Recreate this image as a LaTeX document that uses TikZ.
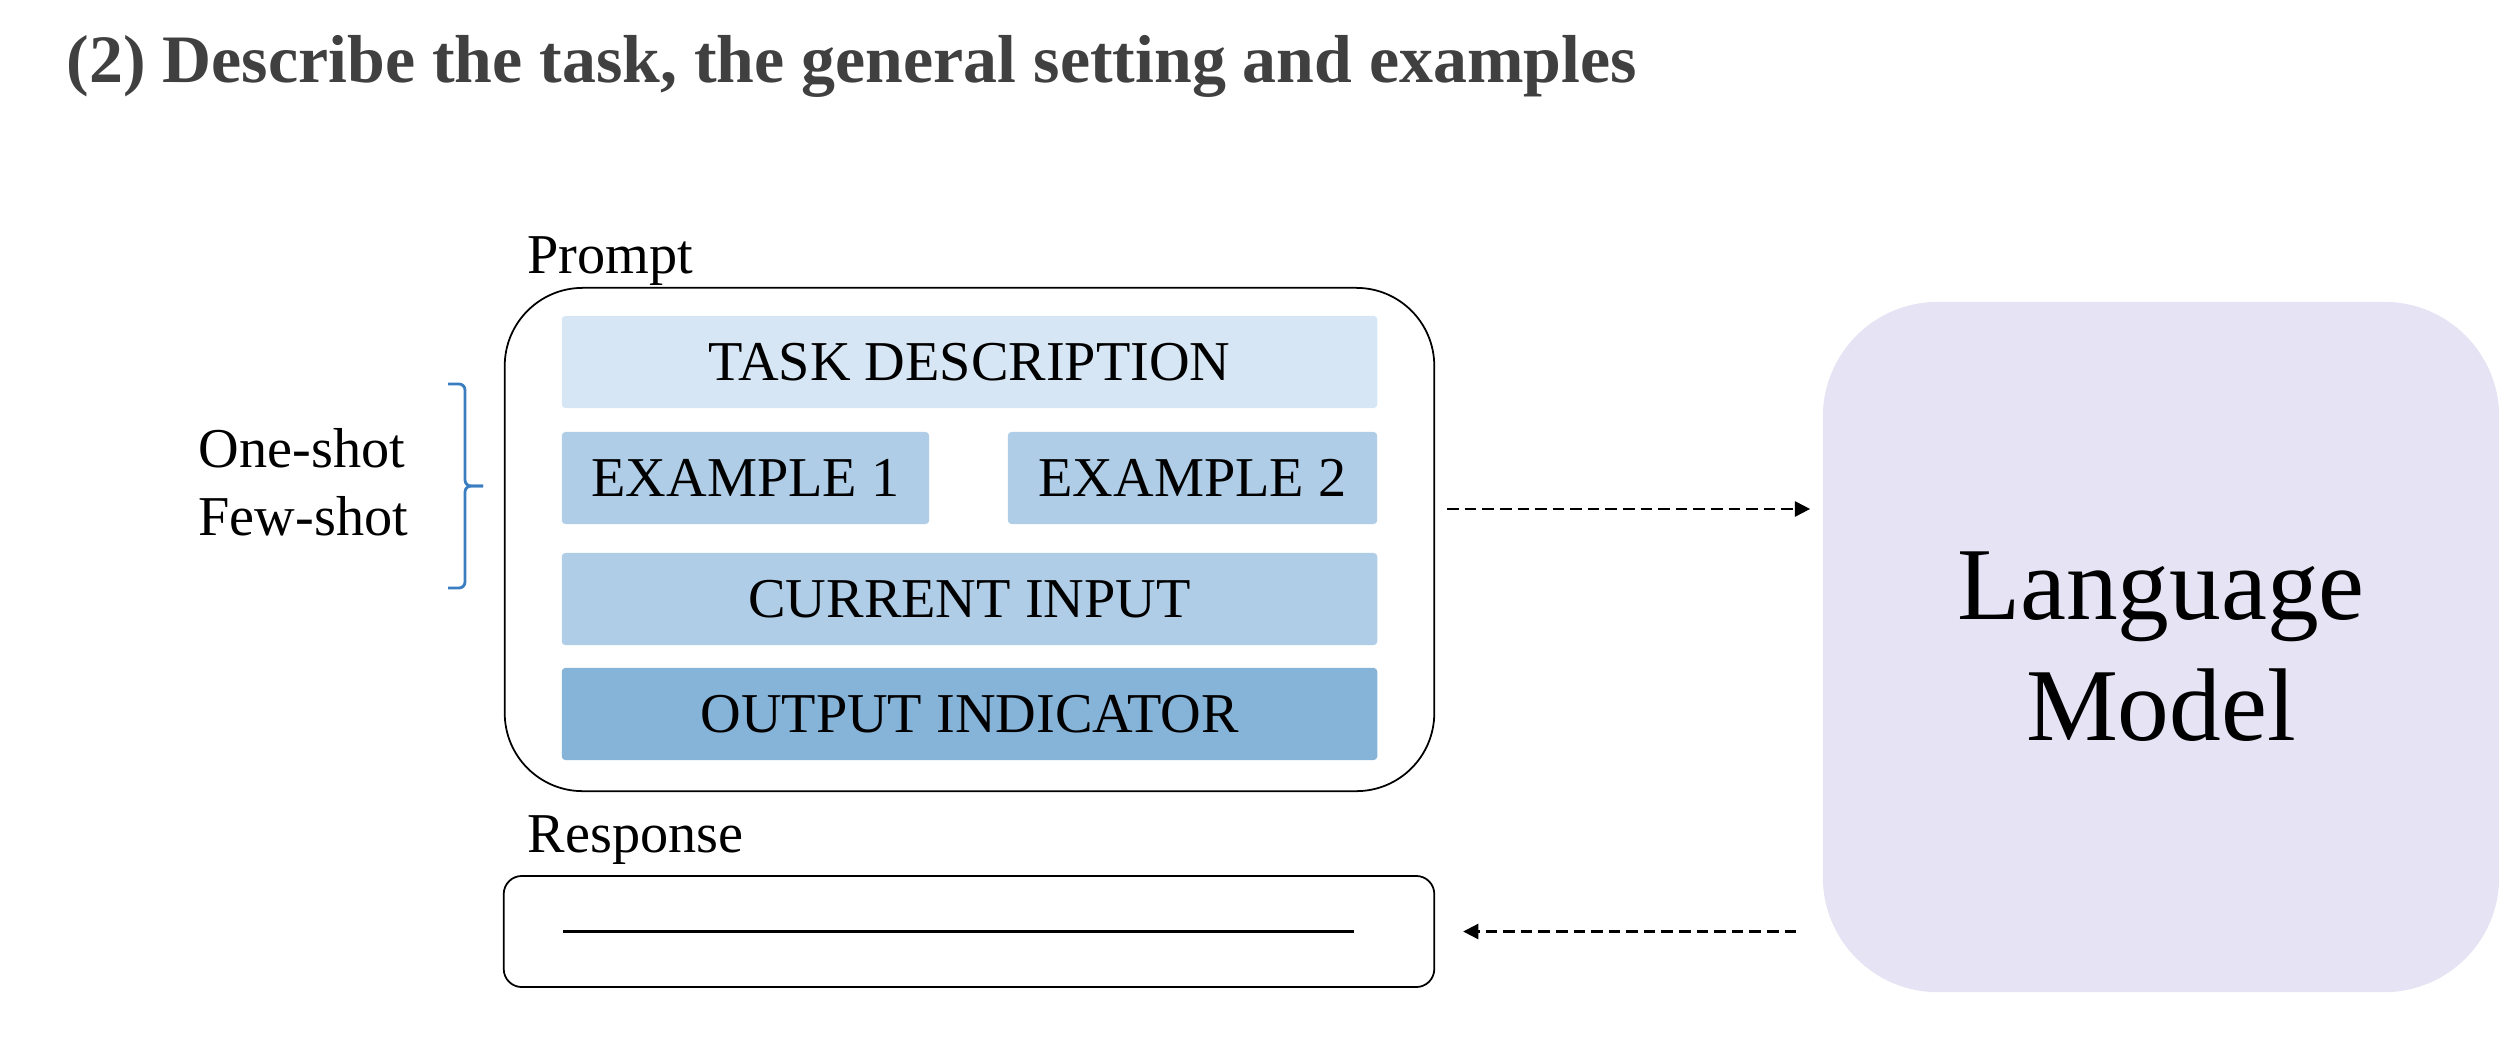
\documentclass[tikz,border=0pt]{standalone}
\usepackage{fontspec}
\setmainfont{Liberation Serif}
\usepackage{xcolor}
\usepackage{tikz}
\usetikzlibrary{positioning, arrows.meta}
\definecolor{taskblue}{HTML}{D7E6F4}
\definecolor{exblue}{HTML}{AFCDE6}
\definecolor{outblue}{HTML}{86B3D8}
\definecolor{lmlilac}{HTML}{E6E3F4}
\definecolor{titlegray}{HTML}{404040}
\definecolor{braceblue}{HTML}{3A7DC0}

\begin{document}
\begin{tikzpicture}[x=0.01cm, y=-0.01cm,
    every node/.style={font=\fontsize{16}{19}\selectfont},
    blockbox/.style={inner sep=0, rounded corners=1pt, minimum height=0.92cm},
    flow/.style={dashed, dash pattern=on 3.3pt off 1.7pt, line width=0.6pt, -{Triangle[length=4.3pt, width=4.3pt]}}]
    \useasboundingbox (0,0) rectangle (2512,1054);

    % Title
    \node[anchor=base west, inner sep=0, text=titlegray, font=\fontsize{19.3}{23}\selectfont\bfseries] (title) at (66,82) {(2) Describe the task, the general setting and examples};

    % Prompt with its parts
    \node[draw, line width=0.5pt, rounded corners=0.78cm, minimum width=9.29cm, minimum height=5.03cm] (prompt) at (969.5,539.5) {};
    \node[anchor=base west, inner sep=0] (promptlbl) at (527,273) {Prompt};
    \node[blockbox, fill=taskblue, minimum width=8.15cm] (task) at (969.5,362) {TASK DESCRIPTION};
    \node[blockbox, fill=exblue, minimum width=3.67cm] (ex1) at (745.5,478) {EXAMPLE 1};
    \node[blockbox, fill=exblue, minimum width=3.69cm] (ex2) at (1192.5,478) {EXAMPLE 2};
    \node[blockbox, fill=exblue, minimum width=8.15cm] (cur) at (969.5,599) {CURRENT INPUT};
    \node[blockbox, fill=outblue, minimum width=8.15cm] (out) at (969.5,714) {OUTPUT INDICATOR};

    % Shots and brace
    \node[anchor=base west, inner sep=0] (oneshot) at (198,467) {One-shot};
    \node[anchor=base west, inner sep=0] (fewshot) at (198,535) {Few-shot};
    \coordinate (bracetop) at (448,384);
    \coordinate (bracebot) at (448,588);
    \coordinate (bracetip) at (483,486);
    \draw[braceblue, line width=0.8pt, rounded corners=0.06cm] (bracetop) -| (465,486) -- (bracetip);
    \draw[braceblue, line width=0.8pt, rounded corners=0.06cm] (bracebot) -| (465,486) -- (bracetip);

    % Language model
    \node[fill=lmlilac, rounded corners=1.15cm, minimum width=6.76cm, minimum height=6.9cm, align=center, font=\fontsize{29.4}{34.4}\selectfont] (lm) at (2161,647) {Language\\Model};

    % Response
    \node[anchor=base west, inner sep=0] (resplbl) at (527,852) {Response};
    \node[draw, line width=0.5pt, rounded corners=0.18cm, minimum width=9.3cm, minimum height=1.11cm] (resp) at (969,931.5) {};
    \draw[line width=0.7pt] ([xshift=0.6cm]resp.west) -- ([xshift=-0.81cm]resp.east);

    % Dashed arrows
    \coordinate (askout) at ([xshift=0.12cm, yshift=0.305cm]prompt.east);
    \coordinate (askin) at (askout -| lm.west);
    \draw[flow] (askout) -- ([xshift=-0.12cm]askin);
    \coordinate (replyout) at (lm.west |- resp.east);
    \draw[flow] ([xshift=-0.26cm]replyout) -- ([xshift=0.28cm]resp.east);
\end{tikzpicture}
\end{document}
